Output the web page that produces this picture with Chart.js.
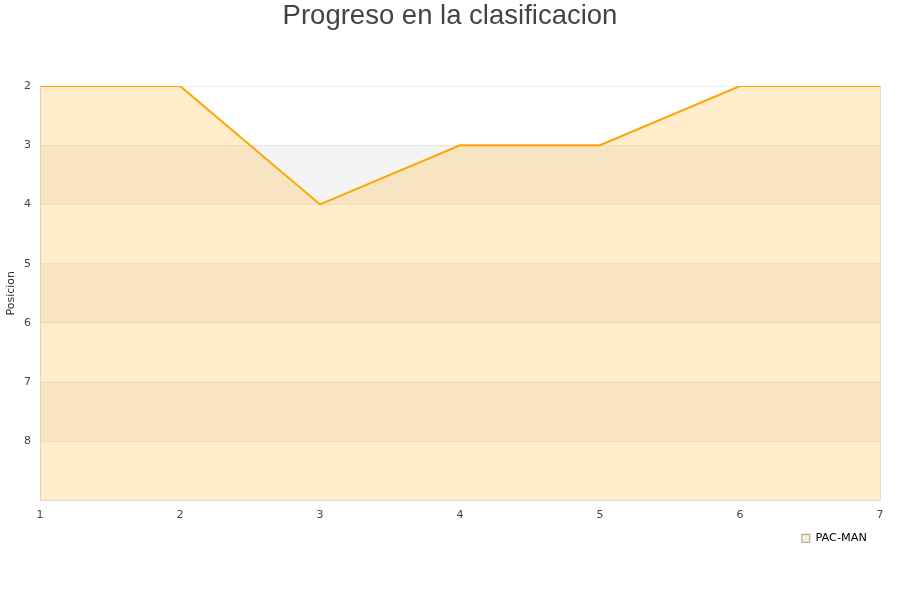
<!DOCTYPE html>
<html><head><meta charset="utf-8">
<script src="https://cdn.jsdelivr.net/npm/chart.js@4"></script>
<style>html,body{margin:0;padding:0;background:#fff}#c{display:block}</style>
</head><body>
<div style="width:900px;height:600px"><canvas id="c" width="900" height="600"></canvas></div>
<script>
const jornadas = ['1','2','3','4','5','6','7'];
const posiciones = [2, 2, 4, 3, 3, 2, 2];
const yTicks = [2, 3, 4, 5, 6, 7, 8];
const seriesName = 'PAC-MAN';
const chartTitle = 'Progreso en la clasificacion';
const yTitle = 'Posicion';
const bandStarts = [3, 5, 7];

const bands = {
  id: 'bands',
  beforeDraw(chart) {
    const {ctx, chartArea: a, scales: {y}} = chart;
    ctx.save();
    ctx.fillStyle = '#f4f4f4';
    bandStarts.forEach(v => {
      const p1 = y.getPixelForValue(v), p2 = y.getPixelForValue(v + 1);
      ctx.fillRect(a.left, Math.min(p1, p2), a.right - a.left, Math.abs(p2 - p1));
    });
    ctx.restore();
  }
};

const yTitlePlugin = {
  id: 'yTitle',
  afterDraw(chart) {
    const {ctx, chartArea: a} = chart;
    ctx.save();
    ctx.translate(11, (a.top + a.bottom) / 2);
    ctx.rotate(-Math.PI / 2);
    ctx.textAlign = 'center';
    ctx.textBaseline = 'middle';
    ctx.fillStyle = '#333';
    ctx.font = '11px "DejaVu Sans"';
    ctx.fillText(yTitle, 0, 0);
    ctx.restore();
  }
};

const legendShift = {
  id: 'legendShift',
  afterLayout(chart) {
    if (chart.legend) { chart.legend.right -= 10; chart.legend.left -= 10; }
  }
};

new Chart(document.getElementById('c'), {
  type: 'line',
  data: {
    labels: jornadas,
    datasets: [{
      label: seriesName,
      data: posiciones,
      borderColor: '#ffa500',
      backgroundColor: 'rgba(255,165,0,0.2)',
      borderWidth: 2,
      pointRadius: 0,
      tension: 0,
      fill: 'start'
    }]
  },
  options: {
    responsive: false,
    animation: false,
    layout: {padding: {left: 20, right: 20, top: 0, bottom: 46}},
    plugins: {
      title: {
        display: true, text: chartTitle, color: '#444',
        font: {family: 'Liberation Sans', size: 27.5, weight: 'normal'},
        padding: {top: 0, bottom: 53}
      },
      legend: {
        position: 'bottom', align: 'end',
        labels: {
          boxWidth: 8, boxHeight: 8, color: '#222', padding: 3,
          font: {family: 'DejaVu Sans', size: 11.3},
          generateLabels: (chart) => [{
            text: seriesName, fillStyle: 'rgba(255,165,0,0.2)', strokeStyle: '#999',
            lineWidth: 1, hidden: false, datasetIndex: 0
          }]
        }
      },
      tooltip: {enabled: false}
    },
    scales: {
      x: {
        offset: false,
        grid: {display: false, drawTicks: false},
        border: {color: '#ddd'},
        ticks: {color: '#444', font: {family: 'DejaVu Sans', size: 11}, padding: 8, maxRotation: 0}
      },
      y: {
        reverse: true, min: 2, max: 9,
        afterBuildTicks: (s) => { s.ticks = yTicks.map(v => ({value: v})); },
        afterFit: (s) => { s.width = 20; },
        grid: {color: 'rgba(0,0,0,0.07)', drawTicks: false},
        border: {color: '#ddd'},
        ticks: {color: '#444', font: {family: 'DejaVu Sans', size: 11}, padding: 9}
      }
    }
  },
  plugins: [bands, yTitlePlugin, legendShift, {
    id: 'frame',
    afterDatasetsDraw(chart) {
      const {ctx, chartArea: a} = chart;
      ctx.save();
      ctx.strokeStyle = '#ddd'; ctx.lineWidth = 1;
      ctx.beginPath();
      ctx.moveTo(a.right + 0.5, a.top); ctx.lineTo(a.right + 0.5, a.bottom);
      ctx.stroke();
      ctx.restore();
    }
  }]
});
</script>
</body></html>
